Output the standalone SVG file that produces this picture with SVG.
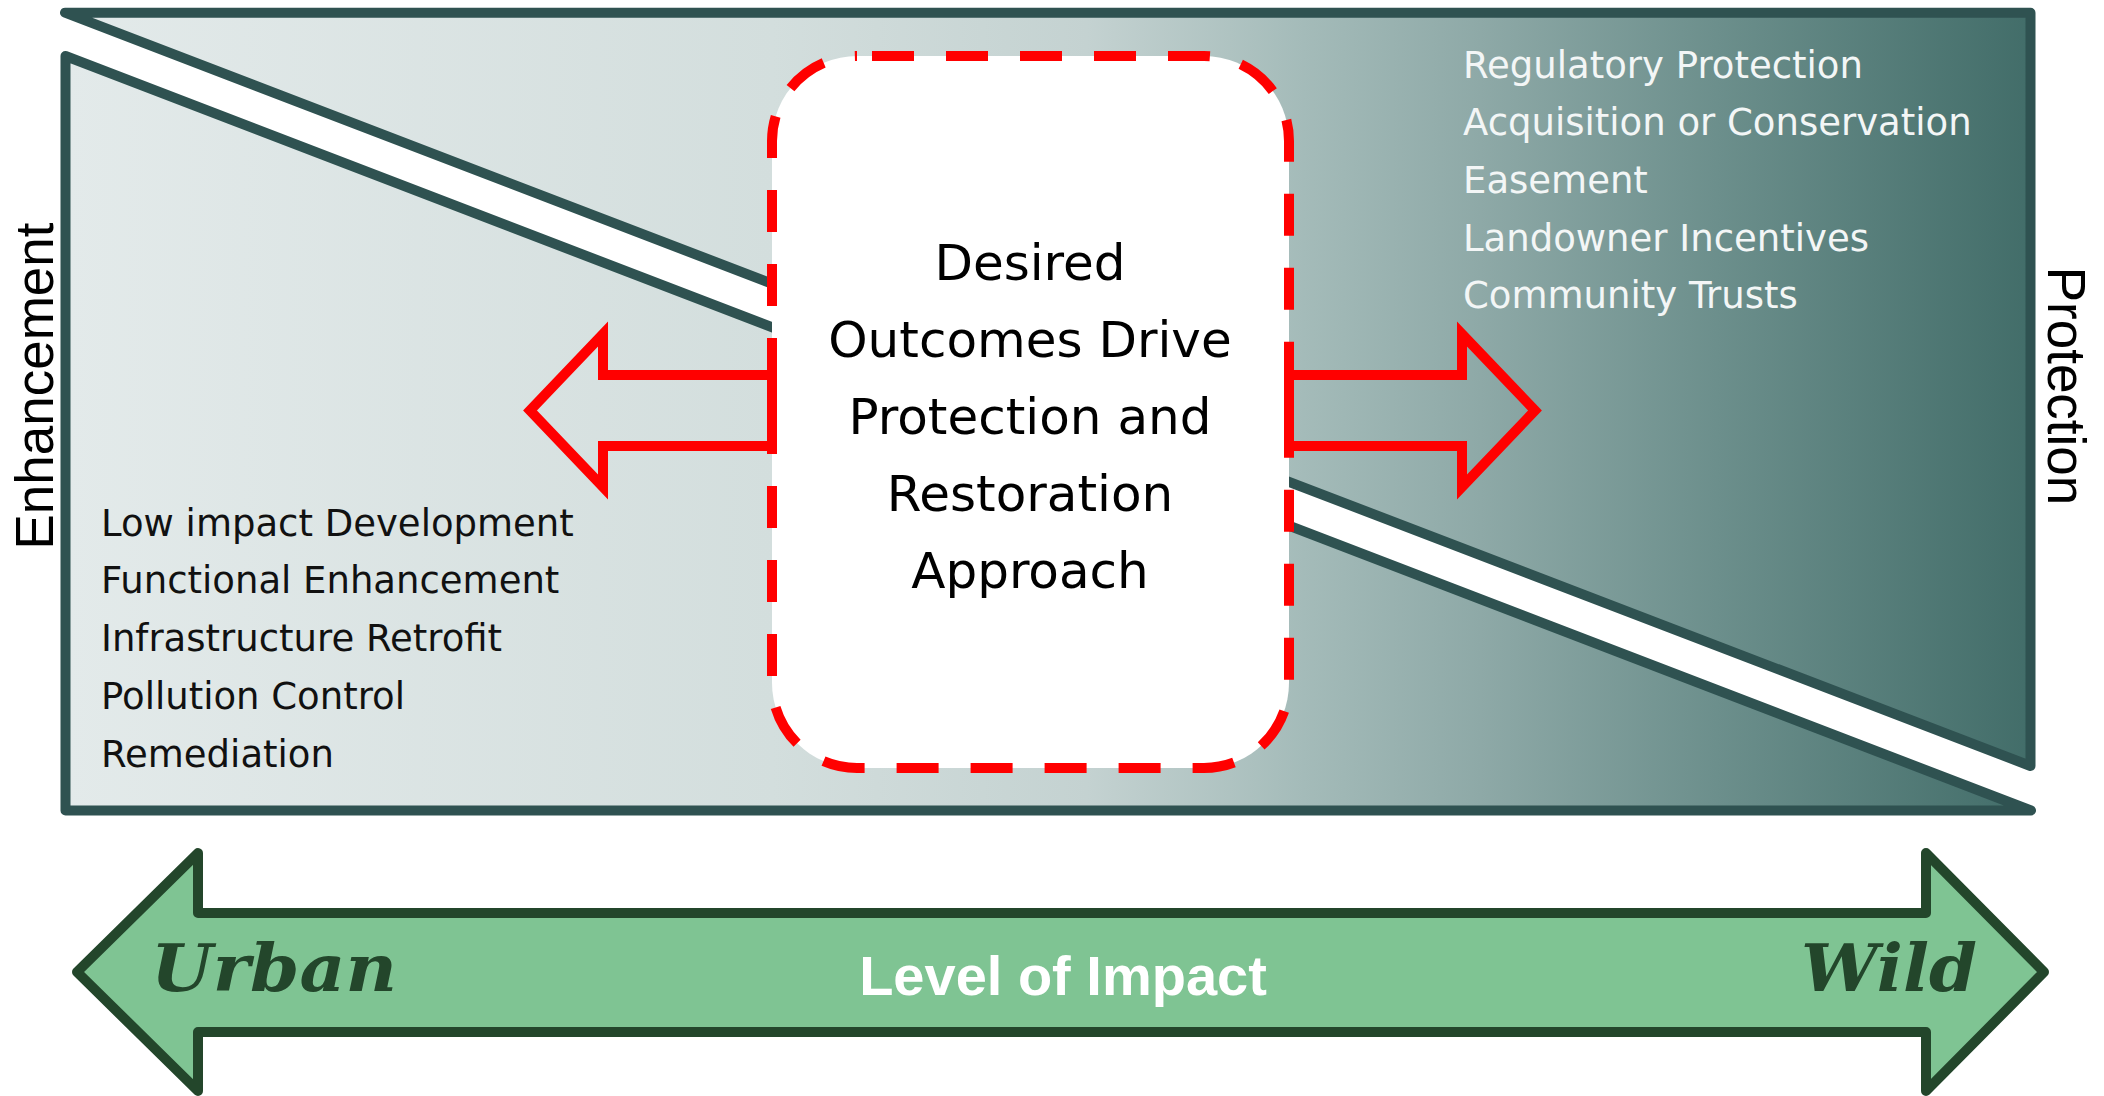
<svg xmlns="http://www.w3.org/2000/svg" width="2104" height="1096" viewBox="0 0 2104 1096">
<defs>
<linearGradient id="zoneGrad" gradientUnits="userSpaceOnUse" x1="65" y1="0" x2="2031" y2="0">
<stop offset="0" stop-color="#E3EAEA"/>
<stop offset="0.36" stop-color="#D3DEDD"/>
<stop offset="0.52" stop-color="#C4D2D1"/>
<stop offset="0.63" stop-color="#A4BBB9"/>
<stop offset="0.72" stop-color="#8EA9A7"/>
<stop offset="0.84" stop-color="#6C8F8C"/>
<stop offset="1" stop-color="#426D69"/>
</linearGradient>
<style>
.zone{fill:url(#zoneGrad);stroke:#2F5251;stroke-width:10;stroke-linejoin:round}
.list{font-family:"DejaVu Sans","Noto Sans",sans-serif;font-size:37px}
.dark{fill:#111111}
.light{fill:#F3F6F6}
.side{font-family:"Liberation Sans",Arial,sans-serif;font-size:53px;fill:#000000;text-anchor:middle}
.center{font-family:"DejaVu Sans","Noto Sans",sans-serif;font-size:50px;fill:#000000;text-anchor:middle}
.redArrow{fill:none;stroke:#FF0000;stroke-width:10;stroke-linejoin:miter}
.scale{fill:#7FC493;stroke:#23462B;stroke-width:10;stroke-linejoin:round}
.script{font-family:"DejaVu Serif","Liberation Serif",serif;font-style:italic;font-weight:bold;font-size:66px;fill:#23462B}
.impact{font-family:"Liberation Sans",Arial,sans-serif;font-weight:bold;font-size:56px;fill:#FFFFFF;text-anchor:middle}
</style>
</defs>
<rect x="0" y="0" width="2104" height="1096" fill="#FFFFFF"/>

<g id="protection-zone">
<polygon class="zone" points="65,12.7 2030.5,12.7 2030.5,766"/>
<text class="list light" x="1463" y="77.5">Regulatory Protection</text>
<text class="list light" x="1463" y="135.2">Acquisition or Conservation</text>
<text class="list light" x="1463" y="192.9">Easement</text>
<text class="list light" x="1463" y="250.6">Landowner Incentives</text>
<text class="list light" x="1463" y="308.3">Community Trusts</text>
</g>

<g id="enhancement-zone">
<polygon class="zone" points="65.5,56 2031,810.5 65.5,810.5"/>
<text class="list dark" x="101" y="535.7">Low impact Development</text>
<text class="list dark" x="101" y="593.4">Functional Enhancement</text>
<text class="list dark" x="101" y="651.1">Infrastructure Retrofit</text>
<text class="list dark" x="101" y="708.8">Pollution Control</text>
<text class="list dark" x="101" y="766.5">Remediation</text>
</g>

<g id="enhancement-label">
<text class="side" transform="translate(53,386) rotate(-90)">Enhancement</text>
</g>
<g id="protection-label">
<text class="side" transform="translate(2048,386) rotate(90)">Protection</text>
</g>

<g id="desired-outcomes">
<rect x="772" y="56" width="517" height="712" rx="85" ry="85" fill="#FFFFFF" stroke="#FF0000" stroke-width="10" stroke-dasharray="42 32" stroke-dashoffset="59"/>
<text class="center" x="1030" y="279.6">Desired</text>
<text class="center" x="1030" y="356.6">Outcomes Drive</text>
<text class="center" x="1030" y="433.6">Protection and</text>
<text class="center" x="1030" y="510.6">Restoration</text>
<text class="center" x="1030" y="587.6">Approach</text>
</g>

<g id="connectors">
<polygon class="redArrow" points="530,410.5 603,334 603,375 772,375 772,446 603,446 603,487"/>
<polygon class="redArrow" points="1535,410.5 1462,334 1462,375 1289,375 1289,446 1462,446 1462,487"/>
</g>

<g id="level-of-impact">
<polygon class="scale" points="77,972 198,853 198,913 1926,913 1926,853 2044,972 1926,1091 1926,1032 198,1032 198,1091"/>
<text class="script" x="151" y="991" textLength="246" lengthAdjust="spacingAndGlyphs">Urban</text>
<text class="script" x="1801" y="991" textLength="176" lengthAdjust="spacingAndGlyphs">Wild</text>
<text class="impact" x="1063" y="995">Level of Impact</text>
</g>
</svg>
